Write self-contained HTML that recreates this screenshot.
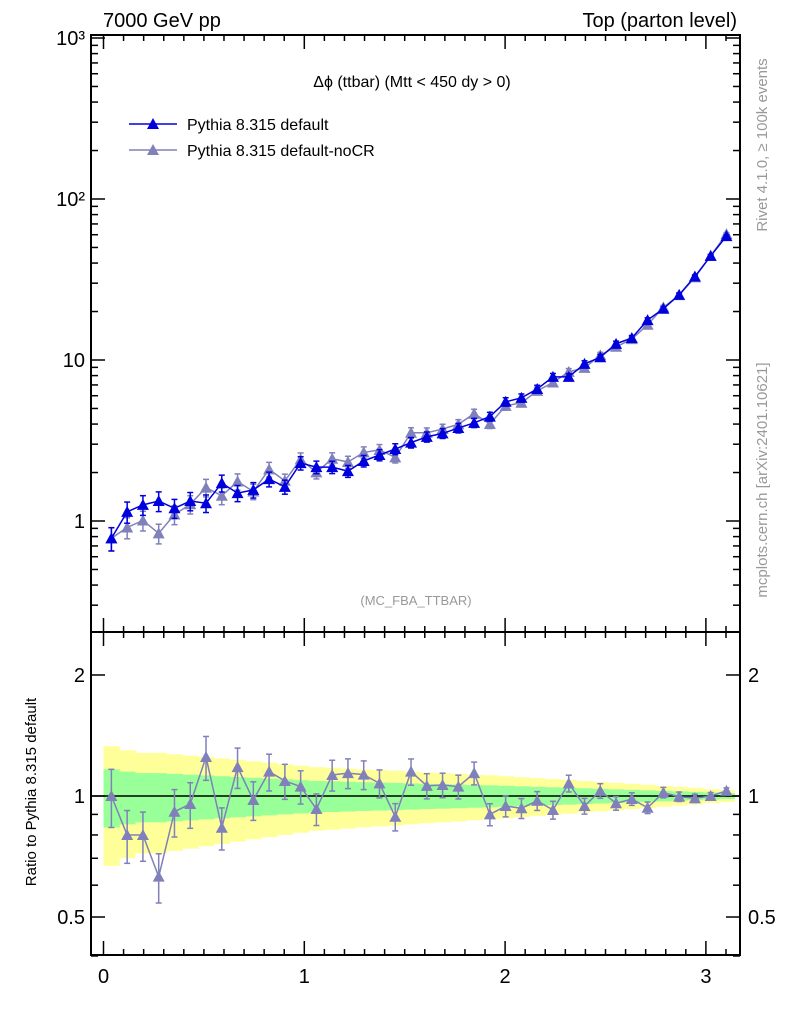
<!DOCTYPE html>
<html><head><meta charset="utf-8"><style>
body{margin:0;background:#fff}
svg{display:block;font-family:"Liberation Sans",sans-serif}
</style></head><body>
<svg id="c" width="786" height="1024">
<text x="103" y="27" font-size="20">7000 GeV pp</text>
<text x="737" y="27" font-size="20" text-anchor="end">Top (parton level)</text>
<text x="412" y="87" font-size="16" text-anchor="middle">Δϕ (ttbar) (Mtt &lt; 450 dy &gt; 0)</text>
<text x="416" y="605" font-size="13" fill="#999" text-anchor="middle">(MC_FBA_TTBAR)</text>
<text transform="translate(767,145) rotate(-90)" font-size="15" fill="#999" text-anchor="middle">Rivet 4.1.0, ≥ 100k events</text>
<text transform="translate(767,480) rotate(-90)" font-size="15" fill="#999" text-anchor="middle">mcplots.cern.ch [arXiv:2401.10621]</text>
<text transform="translate(36,792) rotate(-90)" font-size="15" text-anchor="middle">Ratio to Pythia 8.315 default</text>
<g>
<line x1="129" y1="124" x2="177" y2="124" stroke="#0000dd" stroke-width="1.5"/>
<polygon points="153,118 147,129 159,129" fill="#0000dd"/>
<text x="187" y="130" font-size="16">Pythia 8.315 default</text>
<line x1="129" y1="150" x2="177" y2="150" stroke="#8080bb" stroke-width="1.5"/>
<polygon points="153,144 147,155 159,155" fill="#8080bb"/>
<text x="187" y="156" font-size="16">Pythia 8.315 default-noCR</text>
</g>
</svg>
<script>
const defaultVals=[0.78,1.14,1.26,1.33,1.20,1.33,1.29,1.72,1.49,1.56,1.82,1.63,2.29,2.16,2.16,2.04,2.36,2.57,2.80,3.07,3.33,3.50,3.78,4.07,4.45,5.50,5.82,6.61,7.85,7.85,9.46,10.4,12.6,13.7,17.7,20.8,25.4,33,44.3,58.8];
const ratioVals=[1.0,0.80,0.80,0.63,0.914,0.955,1.25,0.834,1.18,0.977,1.15,1.09,1.055,0.928,1.128,1.14,1.13,1.075,0.888,1.15,1.06,1.065,1.055,1.14,0.90,0.944,0.932,0.973,0.923,1.075,0.944,1.03,0.959,0.983,0.935,1.02,0.996,0.987,1.0,1.03];
const relErr=[0.165,0.15,0.14,0.14,0.135,0.13,0.125,0.12,0.115,0.11,0.105,0.1,0.095,0.09,0.088,0.085,0.082,0.08,0.078,0.075,0.072,0.07,0.068,0.065,0.063,0.06,0.057,0.054,0.051,0.048,0.045,0.042,0.039,0.036,0.033,0.03,0.027,0.024,0.02,0.017];
const xTicks=[0,1,2,3];
const mainTicks=[1,10,100,1000];
const mainTickLabels=["1","10","10²","10³"];
const ratioTicks=[0.5,1,2];
const ratioTickLabels=["0.5","1","2"];
const NS="http://www.w3.org/2000/svg";
const svg=document.getElementById('c');
const L=91,R=740,T=35,M=632,B=955;
const xMax=Math.PI, nb=defaultVals.length, bw=xMax/nb;
const X=v=>103.5+v*200.8;
const Y=v=>521-161*Math.log10(v);
const YR=v=>796-402*Math.log10(v);
function mk(tag,attrs,parent){const e=document.createElementNS(NS,tag);for(const k in attrs)e.setAttribute(k,attrs[k]);(parent||svg).appendChild(e);return e;}
// ratio bands
const bands=mk('g',{});


for(let i=0;i<nb;i++){
 const x0=X(i*bw),x1=X((i+1)*bw),e=relErr[i];
 const y=mk('rect',{x:x0,y:YR(1+2*e),width:x1-x0+0.5,height:YR(Math.max(1-2*e,0.1))-YR(1+2*e),fill:'#ffff99'},bands);
 
 
}
for(let i=0;i<nb;i++){
 const x0=X(i*bw),x1=X((i+1)*bw),e=relErr[i];
 const g=mk('rect',{x:x0,y:YR(1+e),width:x1-x0+0.5,height:YR(1-e)-YR(1+e),fill:'#99ff99'},bands);
 
 
}
const one=mk('line',{x1:L,x2:R,y1:YR(1),y2:YR(1),stroke:'#000','stroke-width':1.5});


// frames
for(const [y0,y1,nm] of [[T,M,'main-frame'],[M,B,'ratio-frame']]){
 const f=mk('rect',{x:L,y:y0,width:R-L,height:y1-y0,fill:'none',stroke:'#000','stroke-width':2});
 
 
}
// x ticks
const ax=mk('g',{stroke:'#000','stroke-width':1.5});


for(let k=0;k<=31;k++){
 const v=k/10,x=X(v),maj=k%10===0,len=maj?14:6;
 for(const y of [T,M]){mk('line',{x1:x,x2:x,y1:y,y2:y+len},ax);}
 for(const y of [M,B]){mk('line',{x1:x,x2:x,y1:y,y2:y-len},ax);}
}
xTicks.forEach(v=>{const t=mk('text',{x:X(v),y:983,'font-size':20,'text-anchor':'middle'});t.textContent=String(v);
 
 });
// main y ticks
const ay=mk('g',{stroke:'#000','stroke-width':1.5});


for(let d=-1;d<=3;d++)for(let m=1;m<=9;m++){
 const v=m*Math.pow(10,d),y=Y(v);if(y<T||y>M)continue;
 const len=m===1?14:7;
 mk('line',{x1:L,x2:L+len,y1:y,y2:y},ay);mk('line',{x1:R,x2:R-len,y1:y,y2:y},ay);
}
mainTicks.forEach((v,i)=>{const t=mk('text',{x:L-6,y:Y(v)+7,'font-size':20,'text-anchor':'end'});t.textContent=mainTickLabels[i];
 
 });
// ratio y ticks
const ar=mk('g',{stroke:'#000','stroke-width':1.5});


[0.4,0.5,0.6,0.7,0.8,0.9,1,2].forEach(v=>{const y=YR(v),len=(v===0.5||v===1||v===2)?14:7;
 mk('line',{x1:L,x2:L+len,y1:y,y2:y},ar);mk('line',{x1:R,x2:R-len,y1:y,y2:y},ar);});
ratioTicks.forEach((v,i)=>{for(const [x,a] of [[L-6,'end'],[R+8,'start']]){const t=mk('text',{x:x,y:YR(v)+7,'font-size':20,'text-anchor':a});t.textContent=ratioTickLabels[i];
 
 }});
// series
function series(vals,errs,yf,color,name){
 const g=mk('g',{});
 
 
 const pts=vals.map((v,i)=>[X((i+0.5)*bw),yf(v)]);
 mk('polyline',{points:pts.map(p=>p.join(',')).join(' '),fill:'none',stroke:color,'stroke-width':1.5},g);
 vals.forEach((v,i)=>{const x=pts[i][0],yt=yf(v*(1+errs[i])),yb=yf(v*(1-errs[i]));
  mk('line',{x1:x,x2:x,y1:yt,y2:yb,stroke:color,'stroke-width':1.5},g);
  mk('line',{x1:x-3,x2:x+3,y1:yt,y2:yt,stroke:color,'stroke-width':1.5},g);
  mk('line',{x1:x-3,x2:x+3,y1:yb,y2:yb,stroke:color,'stroke-width':1.5},g);
  const y=pts[i][1];const m=mk('polygon',{points:`${x},${y-6} ${x-6},${y+5} ${x+6},${y+5}`,fill:color},g);
  
  
 });
}
const noCR=defaultVals.map((v,i)=>v*ratioVals[i]);
series(noCR,relErr,Y,'#8080bb','series-nocr');
series(defaultVals,relErr,Y,'#0000dd','series-default');
series(ratioVals,relErr,YR,'#8080bb','ratio-series-nocr');
</script>
</body></html>
